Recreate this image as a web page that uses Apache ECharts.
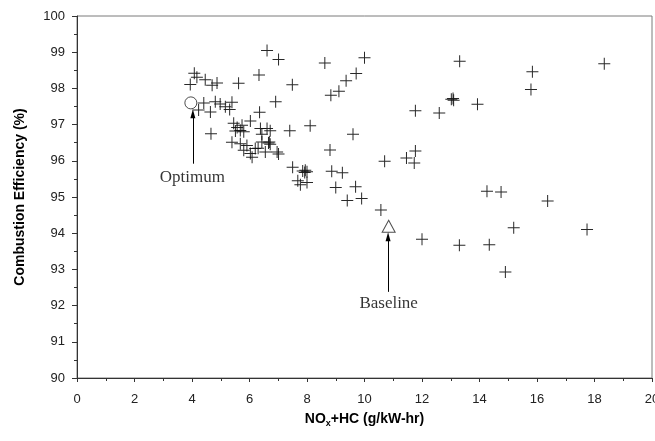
<!DOCTYPE html>
<html>
<head>
    <meta charset="UTF-8">
    <title>combustion efficiency</title>
    <script src="https://cdn.jsdelivr.net/npm/echarts@6/dist/echarts.min.js"></script>
    <style>
        *{margin:0;padding:0}
        html,body{width:100%;height:100%;background:#fff}
        #main{width:655px;height:441px}
    </style>
</head>
<body>
<div id="main"></div>
<script type="text/javascript">
    // test points, [NOx+HC, efficiency]
    var testPoints = [
        [4.08,98.42],[4.17,98.31],[4.46,98.24],[3.94,98.11],[4.70,98.09],[4.87,98.15],[5.62,98.14],
        [6.33,98.37],[6.61,99.05],[7.01,98.80],[7.49,98.10],[8.62,98.70],[10.00,98.85],[9.71,98.41],
        [9.36,98.21],[9.11,97.92],[8.83,97.81],
        [4.41,97.60],[4.23,97.40],[4.64,97.35],[4.81,97.63],[4.98,97.57],[5.16,97.49],[5.39,97.62],
        [5.31,97.42],[6.35,97.34],[6.91,97.63],
        [4.66,96.75],[7.40,96.83],[8.11,96.97],[9.60,96.73],[8.80,96.30],
        [5.45,97.04],[5.57,96.92],[5.74,96.98],[6.03,97.10],[5.51,96.82],[5.68,96.84],[5.80,96.80],
        [6.38,96.89],[6.61,96.89],[6.72,96.83],[6.43,96.73],[5.39,96.51],[5.68,96.47],[5.91,96.42],
        [5.80,96.29],[6.03,96.20],[6.09,96.10],[6.20,96.34],[6.43,96.52],[6.66,96.49],[6.72,96.46],
        [6.69,96.52],[6.55,96.24],[6.96,96.24],[7.01,96.19],[6.30,96.35],
        [7.50,95.82],[7.85,95.72],[7.94,95.74],[8.00,95.70],[7.92,95.68],[7.68,95.45],[7.77,95.34],
        [8.00,95.40],[8.86,95.71],[9.23,95.67],[9.00,95.26],[9.69,95.28],[9.40,94.90],[9.90,94.96],
        [10.57,94.64],[10.70,95.99],
        [12.00,93.83],[13.30,93.67],[14.34,93.68],[14.26,95.16],[14.75,95.14],[16.37,94.89],
        [15.19,94.15],[17.74,94.10],[14.90,92.93],
        [13.31,98.75],[15.84,98.46],[15.79,97.97],[18.34,98.68],[11.77,97.38],[12.60,97.32],
        [13.02,97.70],[13.10,97.67],[13.08,97.72],[13.93,97.56],[11.77,96.27],[11.46,96.08],[11.73,95.94]
    ];
    var optimumPoint = [3.96, 97.60];
    var baselinePoint = [10.84, 94.19];

    // annotation arrows and labels (data coords)
    var optimumArrow = [[4.03, 95.92], [4.03, 97.30]];
    var baselineArrow = [[10.82, 92.38], [10.82, 93.90]];
    var annotations = [
        {name: 'Optimum', value: [4.01, 95.55]},
        {name: 'Baseline', value: [10.84, 92.05]}
    ];

    var xTicks = {min: 0, max: 20, step: 2};
    var yTicks = {min: 90, max: 100, step: 1};

    var crossPath = 'path://M0,5.5H12V6.5H0Z M5.5,0H6.5V12H5.5Z';

    var myChart = echarts.init(document.getElementById('main'));

    var option = {
        animation: false,
        grid: {
            left: 77, right: 3, top: 16, bottom: 63,
            outerBoundsMode: 'none',
            show: true,
            borderColor: '#7a7a7a',
            borderWidth: 1
        },
        xAxis: {
            type: 'value',
            min: xTicks.min, max: xTicks.max, interval: xTicks.step,
            name: 'NO{sub|x}+HC (g/kW-hr)',
            nameLocation: 'middle',
            nameGap: 33,
            nameTextStyle: {
                fontFamily: 'Liberation Sans', fontWeight: 'bold', fontSize: 14, color: '#000',
                rich: {
                    sub: {fontFamily: 'Liberation Sans', fontWeight: 'bold', fontSize: 9, verticalAlign: 'bottom', padding: [8, 0, 0, 0]}
                }
            },
            axisLine: {onZero: false, lineStyle: {color: '#333', width: 1}},
            axisTick: {inside: false, length: 4, lineStyle: {color: '#333'}},
            minorTick: {show: true, splitNumber: 2, length: 3, lineStyle: {color: '#333'}},
            splitLine: {show: false},
            axisLabel: {
                margin: 15,
                fontFamily: 'Liberation Sans', fontSize: 13, color: '#222'
            }
        },
        yAxis: {
            type: 'value',
            min: yTicks.min, max: yTicks.max, interval: yTicks.step,
            name: 'Combustion Efficiency (%)',
            nameLocation: 'middle',
            nameGap: 50,
            nameTextStyle: {fontFamily: 'Liberation Sans', fontWeight: 'bold', fontSize: 14, color: '#000'},
            axisLine: {onZero: false, lineStyle: {color: '#333', width: 1}},
            axisTick: {inside: false, length: 5, lineStyle: {color: '#333'}},
            minorTick: {show: true, splitNumber: 2, length: 3, lineStyle: {color: '#333'}},
            splitLine: {show: false},
            axisLabel: {
                margin: 12,
                fontFamily: 'Liberation Sans', fontSize: 13, color: '#222'
            }
        },
        series: [
            {
                name: 'tests',
                type: 'scatter',
                symbol: crossPath,
                symbolSize: 12,
                itemStyle: {color: '#111', opacity: 0.9},
                data: testPoints
            },
            {
                name: 'optimum',
                type: 'scatter',
                symbol: 'circle',
                symbolSize: 12,
                itemStyle: {color: '#fff', borderColor: '#222', borderWidth: 1},
                data: [optimumPoint]
            },
            {
                name: 'baseline',
                type: 'scatter',
                symbol: 'triangle',
                symbolSize: [13, 12],
                itemStyle: {color: '#fff', borderColor: '#222', borderWidth: 1},
                data: [baselinePoint]
            },
            {
                name: 'arrows',
                type: 'line',
                data: [],
                markLine: {
                    silent: true,
                    symbol: ['none', 'triangle'],
                    symbolSize: [5, 9],
                    label: {show: false},
                    lineStyle: {color: '#000', width: 1, type: 'solid'},
                    data: [
                        [{coord: optimumArrow[0]}, {coord: optimumArrow[1]}],
                        [{coord: baselineArrow[0]}, {coord: baselineArrow[1]}]
                    ]
                }
            },
            {
                name: 'labels',
                type: 'scatter',
                symbolSize: 0,
                silent: true,
                label: {
                    show: true,
                    position: 'inside',
                    formatter: '{b}',
                    fontFamily: 'Liberation Serif',
                    fontSize: 17,
                    color: '#000'
                },
                data: annotations
            }
        ]
    };

    myChart.setOption(option);
</script>
</body>
</html>
